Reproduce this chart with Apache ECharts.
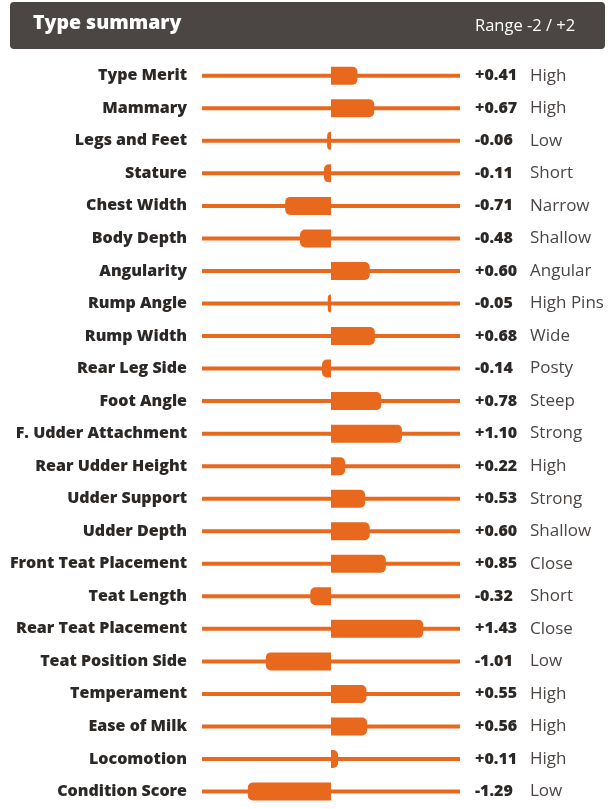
<!DOCTYPE html>
<html>
<head>
<meta charset="utf-8">
<script src="https://cdn.jsdelivr.net/npm/echarts@6/dist/echarts.min.js"></script>
<style>
  html, body { margin: 0; padding: 0; background: #fff; }
  #chart { width: 613px; height: 809px; }
</style>
</head>
<body>
<div id="chart"></div>
<script>
// 性状名称
var traits = ['Type Merit', 'Mammary', 'Legs and Feet', 'Stature', 'Chest Width', 'Body Depth',
  'Angularity', 'Rump Angle', 'Rump Width', 'Rear Leg Side', 'Foot Angle', 'F. Udder Attachment',
  'Rear Udder Height', 'Udder Support', 'Udder Depth', 'Front Teat Placement', 'Teat Length',
  'Rear Teat Placement', 'Teat Position Side', 'Temperament', 'Ease of Milk', 'Locomotion',
  'Condition Score']
var values = [0.41, 0.67, -0.06, -0.11, -0.71, -0.48, 0.60, -0.05, 0.68, -0.14, 0.78, 1.10,
  0.22, 0.53, 0.60, 0.85, -0.32, 1.43, -1.01, 0.55, 0.56, 0.11, -1.29]
var descriptions = ['High', 'High', 'Low', 'Short', 'Narrow', 'Shallow', 'Angular', 'High Pins',
  'Wide', 'Posty', 'Steep', 'Strong', 'High', 'Strong', 'Shallow', 'Close', 'Short', 'Close',
  'Low', 'High', 'High', 'High', 'Low']
var rangeMin = -2
var rangeMax = 2

var orange = '#e8691e'
var font = '"Open Sans", sans-serif'

function fmt (v) {
  return (v >= 0 ? '+' : '-') + Math.abs(v).toFixed(2)
}

var chart = echarts.init(document.getElementById('chart'))

var option = {
  animation: false,
  grid: { left: 202, right: 153, top: 59.5, bottom: 1.2 },
  graphic: [
    {
      type: 'rect',
      shape: { x: 10, y: 2, width: 595, height: 47, r: 4 },
      style: { fill: '#4b4643' }
    },
    {
      type: 'text',
      x: 33, y: 23,
      style: { text: 'Type summary', fill: '#fff', font: '800 19.5px ' + font, verticalAlign: 'middle' }
    },
    {
      type: 'text',
      x: 475, y: 26,
      style: { text: 'Range -2 / +2', fill: '#fff', font: '16.5px ' + font, verticalAlign: 'middle' }
    }
  ],
  xAxis: {
    type: 'value',
    min: rangeMin,
    max: rangeMax,
    show: false
  },
  yAxis: [
    {
      type: 'category',
      data: traits,
      inverse: true,
      axisLine: { show: false },
      axisTick: { show: false },
      axisLabel: {
        margin: 15,
        color: '#2b2826',
        fontFamily: font,
        fontWeight: 800,
        fontSize: 16
      }
    },
    {
      type: 'category',
      data: traits,
      inverse: true,
      position: 'right',
      axisLine: { show: false },
      axisTick: { show: false },
      axisLabel: {
        margin: 15,
        align: 'left',
        formatter: function (val, idx) {
          return '{v|' + fmt(values[idx]) + '}{d|' + descriptions[idx] + '}'
        },
        rich: {
          v: { width: 55, color: '#2b2826', fontFamily: font, fontWeight: 800, fontSize: 16 },
          d: { color: '#4b4643', fontFamily: font, fontSize: 17 }
        }
      }
    }
  ],
  series: [
    {
      type: 'custom',
      data: values.map(function (v, i) { return [v, i] }),
      encode: { x: 0, y: 1 },
      renderItem: function (params, api) {
        var v = api.value(0)
        var idx = api.value(1)
        var left = api.coord([rangeMin, idx])
        var right = api.coord([rangeMax, idx])
        var zero = api.coord([0, idx])
        var end = api.coord([v, idx])
        var y = zero[1]
        var h = 18
        var x0 = Math.min(zero[0], end[0])
        var w = Math.abs(end[0] - zero[0])
        var r = Math.min(5, w)
        var radius = v >= 0 ? [0, r, r, 0] : [r, 0, 0, r]
        return {
          type: 'group',
          children: [
            {
              type: 'rect',
              shape: { x: left[0], y: y - 2, width: right[0] - left[0], height: 4 },
              style: { fill: orange }
            },
            {
              type: 'rect',
              shape: { x: x0, y: y - h / 2, width: Math.max(w, 2), height: h, r: radius },
              style: { fill: orange }
            }
          ]
        }
      }
    }
  ]
}

chart.setOption(option)
</script>
</body>
</html>
